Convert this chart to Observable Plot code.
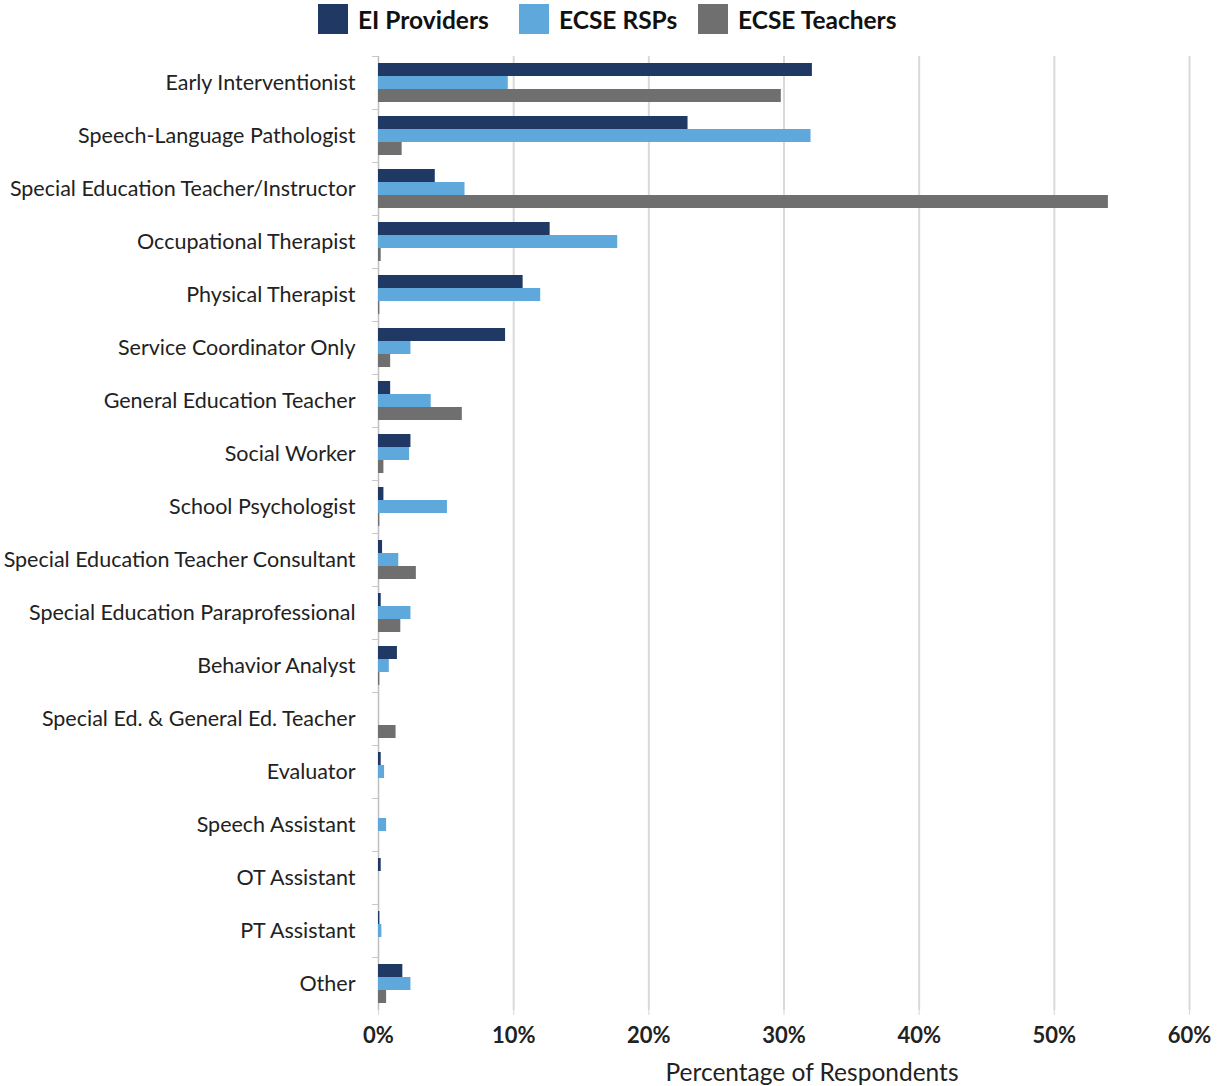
<!DOCTYPE html>
<html>
<head>
<meta charset="utf-8">
<script src="https://cdn.jsdelivr.net/npm/d3@7"></script>
<script src="https://cdn.jsdelivr.net/npm/@observablehq/plot@0.6"></script>
<style>
  html, body { margin: 0; padding: 0; background: #fff; }
  body { width: 1217px; height: 1086px; position: relative; overflow: hidden; font-family: Lato, "Noto Sans", sans-serif; }
  #legend { position: absolute; top: 0; left: 0; height: 38px; width: 1217px; }
  .item { position: absolute; top: 4px; display: flex; align-items: center; height: 30px; }
  .sw { width: 30px; height: 30px; margin-right: 10px; }
  .lbl { font-weight: bold; font-size: 24.5px; color: #111; white-space: nowrap; }
  #chart { position: absolute; top: 40px; left: 0; }
  #chart svg { overflow: visible; }
  #xlabel { position: absolute; top: 1057px; left: 812px; transform: translateX(-50%); font-size: 24.5px; color: #222; white-space: nowrap; }
</style>
</head>
<body>
<div id="legend"></div>
<div id="chart"></div>
<div id="xlabel"></div>
<script>
const categories = [
  "Early Interventionist",
  "Speech-Language Pathologist",
  "Special Education Teacher/Instructor",
  "Occupational Therapist",
  "Physical Therapist",
  "Service Coordinator Only",
  "General Education Teacher",
  "Social Worker",
  "School Psychologist",
  "Special Education Teacher Consultant",
  "Special Education Paraprofessional",
  "Behavior Analyst",
  "Special Ed. & General Ed. Teacher",
  "Evaluator",
  "Speech Assistant",
  "OT Assistant",
  "PT Assistant",
  "Other"
];
const series = ["EI Providers", "ECSE RSPs", "ECSE Teachers"];
const eiProviders =  [32.1, 22.9, 4.2, 12.7, 10.7, 9.4, 0.9, 2.4, 0.4, 0.3, 0.2, 1.4, 0, 0.2, 0, 0.2, 0.1, 1.8];
const ecseRSPs =     [9.6, 32.0, 6.4, 17.7, 12.0, 2.4, 3.9, 2.3, 5.1, 1.5, 2.4, 0.8, 0, 0.45, 0.6, 0, 0.25, 2.4];
const ecseTeachers = [29.8, 1.75, 54.0, 0.2, 0.1, 0.9, 6.2, 0.4, 0.1, 2.8, 1.65, 0.1, 1.3, 0, 0, 0, 0, 0.6];
const xTicks = [0, 10, 20, 30, 40, 50, 60];
const seriesColors = ["#203864", "#5fa8dc", "#6f6f6f"];
const xTitle = "Percentage of Respondents";

const valuesBySeries = [eiProviders, ecseRSPs, ecseTeachers];
const rows = [];
categories.forEach((c, i) => {
  series.forEach((s, j) => rows.push({category: c, series: s, value: valuesBySeries[j][i]}));
});

// Legend
const legend = document.getElementById("legend");
const legendX = [318, 519, 698];
series.forEach((s, j) => {
  const it = document.createElement("div");
  it.className = "item";
  it.style.left = legendX[j] + "px";
  it.innerHTML = `<div class="sw" style="background:${seriesColors[j]}"></div><span class="lbl">${s}</span>`;
  legend.appendChild(it);
});
document.getElementById("xlabel").textContent = xTitle;

const chart = Plot.plot({
  width: 1217,
  height: 1046,
  marginLeft: 378,
  marginRight: 28,
  marginTop: 15,
  marginBottom: 76,
  style: {fontFamily: "Lato, 'Noto Sans', sans-serif", background: "#fff"},
  x: {domain: [0, 60], axis: null},
  fy: {domain: categories, padding: 0, axis: null},
  y: {domain: series, paddingInner: 0, paddingOuter: 0.467, axis: null},
  color: {domain: series, range: seriesColors},
  marks: [
    Plot.ruleX(xTicks.slice(1), {stroke: "#d9d9d9", strokeWidth: 2}),
    Plot.ruleX([0], {stroke: "#bfbfbf", strokeWidth: 1.5}),
    Plot.barX(rows, {x: "value", y: "series", fy: "category", fill: "series"}),
    Plot.axisFy({anchor: "left", tickSize: 0, tickPadding: 23, fontSize: 21.5, fill: "#222", label: null}),
    Plot.axisFy({anchor: "left", tickSize: 6, tickFormat: null, stroke: "#c8c8c8", dy: -26.5, label: null}),
    Plot.axisX(xTicks, {anchor: "bottom", tickSize: 5, stroke: "#d9d9d9", tickPadding: 12, fontSize: 22, fontWeight: "bold", fill: "#222", tickFormat: d => d + "%", label: null})
  ]
});
document.getElementById("chart").appendChild(chart);
</script>
</body>
</html>
